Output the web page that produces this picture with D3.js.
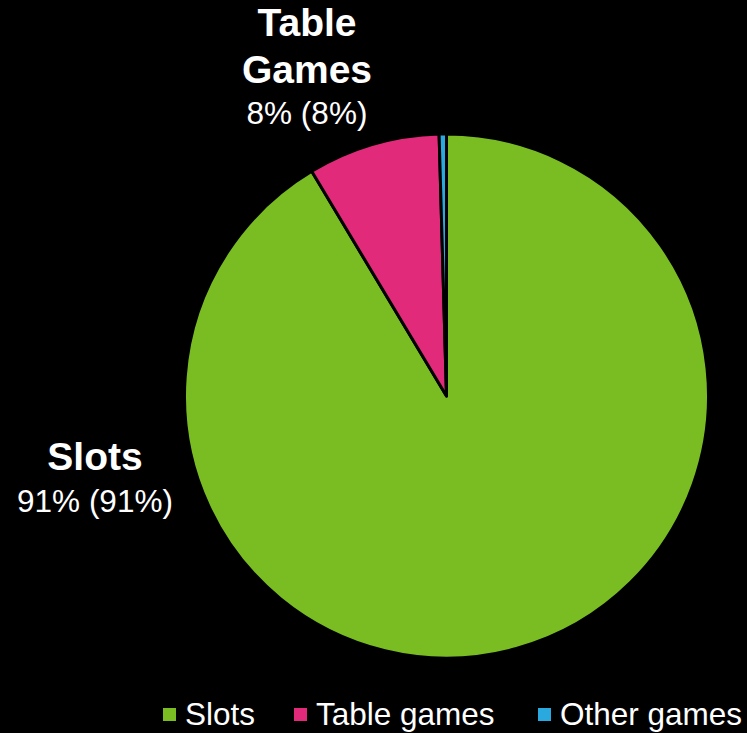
<!DOCTYPE html>
<html><head><meta charset="utf-8">
<script src="https://cdn.jsdelivr.net/npm/d3@7"></script>
<style>html,body{margin:0;padding:0;background:#000;}svg{display:block;}</style>
</head><body>
<svg id="chart" width="747" height="733"></svg>
<script>
const categories = ["Slots", "Table games", "Other games"];
const values = [91.4, 8.15, 0.45];
const colors = ["#7ABD23", "#E22A7A", "#2AA9DF"];
const labelTitles = [["Slots"], ["Table", "Games"], null];
const labelValues = ["91% (91%)", "8% (8%)", null];

const svg = d3.select("#chart");
const W = 747, H = 733;
svg.append("rect").attr("width", W).attr("height", H).attr("fill", "#000");
const cx = 446.5, cy = 396, r = 262;
const pie = d3.pie().sort(null).value(d => d)(values);
const arc = d3.arc().innerRadius(0).outerRadius(r);
const g = svg.append("g").attr("transform", `translate(${cx},${cy})`);
g.selectAll("path").data(pie).join("path")
  .attr("d", arc)
  .attr("fill", (d, i) => colors[i])
  .attr("stroke", "#000").attr("stroke-width", 3).attr("stroke-linejoin", "round");

const font = "'Liberation Sans', Arial, sans-serif";
// Data labels
const labelPos = [{x: 95, y: 470, vy: 512}, {x: 307, y: 36, vy: 124}];
labelPos.forEach((p, i) => {
  const t = labelTitles[i];
  t.forEach((line, k) => {
    svg.append("text").attr("x", p.x).attr("y", p.y + k * 47)
      .attr("text-anchor", "middle").attr("fill", "#fff")
      .attr("font-family", font).attr("font-weight", "bold").attr("font-size", 39)
      .text(line);
  });
  svg.append("text").attr("x", p.x).attr("y", p.vy)
    .attr("text-anchor", "middle").attr("fill", "#fff")
    .attr("font-family", font).attr("font-size", 31.5)
    .text(labelValues[i]);
});

// Legend
const legendX = [163, 294, 538];
const lg = svg.append("g");
categories.forEach((c, i) => {
  lg.append("rect").attr("x", legendX[i]).attr("y", 708).attr("width", 13).attr("height", 13).attr("fill", colors[i]);
  lg.append("text").attr("x", legendX[i] + 22).attr("y", 725)
    .attr("fill", "#fff").attr("font-family", font).attr("font-size", 31.5)
    .text(c);
});
</script>
</body></html>
